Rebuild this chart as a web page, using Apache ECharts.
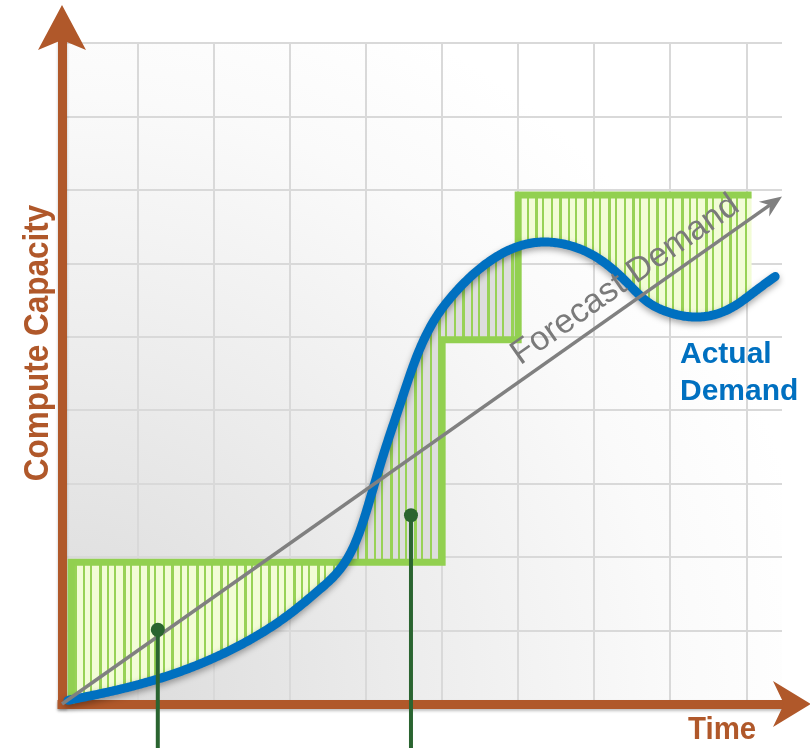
<!DOCTYPE html>
<html>
<head>
<meta charset="utf-8">
<script src="https://cdn.jsdelivr.net/npm/echarts@6/dist/echarts.min.js"></script>
<style>
  html, body { margin: 0; padding: 0; background: #ffffff; }
  #chart { width: 810px; height: 748px; }
</style>
</head>
<body>
<div id="chart"></div>
<script>
// Actual demand (time, compute units)
const demandX = [0.08, 0.76, 1.55, 2.34, 3.00, 3.40, 3.66, 3.82, 3.95, 4.08, 4.26, 4.45, 4.65, 4.87, 5.11, 5.43, 5.80, 6.20, 6.65, 7.08, 7.43, 7.67, 7.96, 8.40, 8.83, 9.18, 9.38];
const demandY = [0.05, 0.20, 0.44, 0.80, 1.23, 1.57, 1.84, 2.11, 2.45, 2.89, 3.50, 4.09, 4.69, 5.18, 5.53, 5.87, 6.14, 6.28, 6.25, 6.05, 5.74, 5.50, 5.34, 5.27, 5.41, 5.67, 5.82];

// Provisioned capacity, one level per step
const capacityStart = [0.12, 5, 6];
const capacityEnd = [5, 6, 9.07];
const capacityLevel = [1.93, 4.96, 6.93];

// Straight-line forecast
const forecastFrom = [0, 0];
const forecastTo = [9.47, 6.91];
const forecastText = 'Forecast Demand';

// Call-out pins below the plot
const calloutX = [1.26, 4.59];
const calloutY = [1.01, 2.57];

const BROWN = '#b0582a';
const GREEN = '#92d050';
const BLUE = '#0070c0';

// Vertical hatching used inside the gaps between capacity and demand
function hatch(bg) {
  const c = document.createElement('canvas');
  c.width = 97; c.height = 8;
  const g = c.getContext('2d');
  g.fillStyle = bg; g.fillRect(0, 0, c.width, c.height);
  g.fillStyle = '#98d256';
  [2, 10, 17, 26, 33, 42, 50, 57, 66, 74, 83, 90].forEach(function (x, i) {
    g.fillRect(x, 0, i % 3 === 0 ? 3 : 2, c.height);
  });
  return { image: c, repeat: 'repeat' };
}
const overPattern = hatch('#f2fcd6');
const underPattern = hatch('#dddddd');

// Natural cubic spline through pixel points (x increasing), sampled for drawing
function sampleCurve(p) {
  const n = p.length, h = [], alpha = [], l = [1], mu = [0], z = [0], c = [], b = [], d = [];
  for (let i = 0; i < n - 1; i++) h[i] = p[i + 1][0] - p[i][0];
  for (let i = 1; i < n - 1; i++) {
    alpha[i] = 3 / h[i] * (p[i + 1][1] - p[i][1]) - 3 / h[i - 1] * (p[i][1] - p[i - 1][1]);
    l[i] = 2 * (p[i + 1][0] - p[i - 1][0]) - h[i - 1] * mu[i - 1];
    mu[i] = h[i] / l[i];
    z[i] = (alpha[i] - h[i - 1] * z[i - 1]) / l[i];
  }
  c[n - 1] = 0;
  for (let j = n - 2; j >= 0; j--) {
    c[j] = (j === 0 ? 0 : z[j]) - (j === 0 ? 0 : mu[j]) * c[j + 1];
    b[j] = (p[j + 1][1] - p[j][1]) / h[j] - h[j] * (c[j + 1] + 2 * c[j]) / 3;
    d[j] = (c[j + 1] - c[j]) / (3 * h[j]);
  }
  const out = [];
  for (let i = 0; i < n - 1; i++) {
    const steps = Math.max(4, Math.ceil(Math.max(h[i], Math.abs(p[i + 1][1] - p[i][1])) / 1.5));
    for (let s = 0; s < steps; s++) {
      const t = h[i] * s / steps;
      out.push([p[i][0] + t, p[i][1] + b[i] * t + c[i] * t * t + d[i] * t * t * t]);
    }
  }
  out.push(p[n - 1].slice());
  return out;
}
function yOnCurve(curve, x) {
  if (x <= curve[0][0]) return curve[0][1];
  for (let i = 1; i < curve.length; i++) {
    if (curve[i][0] >= x) {
      const a = curve[i - 1], b = curve[i];
      const t = (x - a[0]) / (b[0] - a[0] || 1);
      return a[1] + t * (b[1] - a[1]);
    }
  }
  return curve[curve.length - 1][1];
}
function demandCurve(api) {
  return sampleCurve(demandX.map(function (x, i) { return api.coord([x, demandY[i]]); }));
}

// Shaded gap between the capacity steps and the demand curve
function renderGap(params, api) {
  const curve = demandCurve(api);
  const children = [];
  function flush(run, yc, surplus) {
    if (run.length < 2) return;
    const pts = run.concat([[run[run.length - 1][0], yc], [run[0][0], yc]]);
    children.push({ type: 'polygon', shape: { points: pts },
      style: { fill: surplus ? overPattern : underPattern, stroke: null } });
  }
  for (let k = 0; k < capacityLevel.length; k++) {
    const xa = api.coord([capacityStart[k], 0])[0];
    const xb = api.coord([capacityEnd[k], 0])[0];
    const yc = api.coord([0, capacityLevel[k]])[1];
    const seg = [[xa, yOnCurve(curve, xa)]];
    curve.forEach(function (p) { if (p[0] > xa && p[0] < xb) seg.push(p); });
    seg.push([xb, yOnCurve(curve, xb)]);
    let surplus = seg[0][1] > yc;
    let run = [seg[0]];
    for (let i = 1; i < seg.length; i++) {
      const p = seg[i], s = p[1] > yc;
      if (s !== surplus) {
        const q = seg[i - 1];
        const t = (yc - q[1]) / (p[1] - q[1]);
        const cx = q[0] + t * (p[0] - q[0]);
        run.push([cx, yc]);
        flush(run, yc, surplus);
        run = [[cx, yc]];
        surplus = s;
      }
      run.push(p);
    }
    flush(run, yc, surplus);
  }
  return { type: 'group', children: children };
}

function renderDemand(params, api) {
  return {
    type: 'polyline',
    shape: { points: demandCurve(api) },
    style: { stroke: BLUE, lineWidth: 9, fill: null, lineJoin: 'round', lineCap: 'round',
      shadowColor: 'rgba(0,0,0,0.35)', shadowBlur: 6, shadowOffsetY: 3 }
  };
}

function renderForecast(params, api) {
  const a = api.coord(forecastFrom), b = api.coord(forecastTo);
  const dx = b[0] - a[0], dy = b[1] - a[1], len = Math.sqrt(dx * dx + dy * dy);
  const ux = dx / len, uy = dy / len, nx = uy, ny = -ux;
  const headLen = 22, headHalf = 9, notch = 15;
  const base = [b[0] - ux * notch, b[1] - uy * notch];
  const angle = Math.atan2(-dy, dx);
  const f = 0.80, off = 5;
  const lx = a[0] + dx * f + nx * off, ly = a[1] + dy * f + ny * off;
  return {
    type: 'group',
    children: [
      { type: 'line', shape: { x1: a[0], y1: a[1], x2: base[0], y2: base[1] },
        style: { stroke: '#808080', lineWidth: 3.5 } },
      { type: 'polygon', shape: { points: [
          b,
          [b[0] - ux * headLen + nx * headHalf, b[1] - uy * headLen + ny * headHalf],
          base,
          [b[0] - ux * headLen - nx * headHalf, b[1] - uy * headLen - ny * headHalf]
        ] }, style: { fill: '#808080' } },
      { type: 'text', x: lx, y: ly, rotation: angle,
        style: { text: forecastText, x: 0, y: 0, fill: '#7a7a7a',
          font: '34px "Liberation Sans", Arial, sans-serif',
          align: 'center', verticalAlign: 'bottom' } }
    ]
  };
}

function renderCallouts(params, api) {
  const children = [];
  calloutX.forEach(function (x, i) {
    const c = api.coord([x, calloutY[i]]);
    children.push({ type: 'line', shape: { x1: c[0], y1: c[1], x2: c[0], y2: 760 },
      style: { stroke: '#2a6430', lineWidth: 4 } });
    children.push({ type: 'circle', shape: { cx: c[0], cy: c[1], r: 7 },
      style: { fill: '#2a6430' } });
  });
  return { type: 'group', children: children };
}

// Capacity step outline built from the step arrays
const capacityLine = [[capacityStart[0], 0]];
capacityLevel.forEach(function (lv, i) {
  capacityLine.push([capacityStart[i], lv], [capacityEnd[i], lv]);
});

const chart = echarts.init(document.getElementById('chart'), null, { renderer: 'canvas' });
const gridLine = { show: true, lineStyle: { color: '#d9d9d9', width: 2 }, showMinLine: false };
const axisStroke = { color: BROWN, width: 9, cap: 'square',
  shadowColor: 'rgba(0,0,0,0.25)', shadowBlur: 3, shadowOffsetY: 2 };

chart.setOption({
  animation: false,
  backgroundColor: '#ffffff',
  grid: [
    { left: 62, right: 28, top: 43, bottom: 44, show: true, borderWidth: 0,
      backgroundColor: { type: 'radial', x: 0, y: 1, r: 1.15, colorStops: [
        { offset: 0, color: '#d9d9d9' }, { offset: 0.45, color: '#ececec' },
        { offset: 0.8, color: '#fafafa' }, { offset: 1, color: '#ffffff' } ] } },
    { left: 62, right: 27, top: 42, bottom: 44 }
  ],
  xAxis: [
    { gridIndex: 0, type: 'value', min: 0, max: 9.47, interval: 1,
      axisLine: { show: false }, axisTick: { show: false }, axisLabel: { show: false },
      splitLine: Object.assign({}, gridLine, { showMaxLine: false }) },
    { gridIndex: 1, type: 'value', min: 0, max: 1,
      axisLine: { show: true, lineStyle: axisStroke },
      axisTick: { show: false }, axisLabel: { show: false }, splitLine: { show: false } }
  ],
  yAxis: [
    { gridIndex: 0, type: 'value', min: 0, max: 9, interval: 1,
      axisLine: { show: false }, axisTick: { show: false }, axisLabel: { show: false },
      splitLine: gridLine },
    { gridIndex: 1, type: 'value', min: 0, max: 1,
      axisLine: { show: true, lineStyle: axisStroke },
      axisTick: { show: false }, axisLabel: { show: false }, splitLine: { show: false } }
  ],
  series: [
    { type: 'custom', name: 'gap', xAxisIndex: 0, yAxisIndex: 0, data: [[0, 0]],
      renderItem: renderGap, z: 2, silent: true },
    { type: 'line', name: 'Capacity', xAxisIndex: 0, yAxisIndex: 0, data: capacityLine,
      symbol: 'none', lineStyle: { color: GREEN, width: 7, join: 'miter' }, z: 3, silent: true },
    { type: 'custom', name: 'Actual Demand', xAxisIndex: 0, yAxisIndex: 0, data: [[0, 0]],
      renderItem: renderDemand, z: 4, silent: true },
    { type: 'custom', name: 'Forecast Demand', xAxisIndex: 0, yAxisIndex: 0, data: [[0, 0]],
      renderItem: renderForecast, z: 5, silent: true },
    { type: 'custom', name: 'callouts', xAxisIndex: 0, yAxisIndex: 0, data: [[0, 0]],
      renderItem: renderCallouts, z: 6, silent: true, clip: false }
  ],
  graphic: [
    // arrowheads closing the two axes
    { type: 'polygon', z: 10, shape: { points: [[62, 5], [86, 50], [62, 40], [38, 50]] },
      style: { fill: BROWN } },
    { type: 'polygon', z: 10, shape: { points: [[811, 704], [773, 727], [784, 704], [773, 681]] },
      style: { fill: BROWN } },
    { type: 'text', x: 38, y: 343, rotation: Math.PI / 2, scaleX: 0.9, z: 10,
      style: { text: 'Compute Capacity', fill: BROWN,
        font: 'bold 35px "Liberation Sans", Arial, sans-serif',
        align: 'center', verticalAlign: 'middle', textAlign: 'center', textVerticalAlign: 'middle' } },
    { type: 'text', x: 688, y: 730, scaleX: 0.92, z: 10,
      style: { text: 'Time', fill: BROWN,
        font: 'bold 32px "Liberation Sans", Arial, sans-serif',
        align: 'left', verticalAlign: 'middle', textAlign: 'left', textVerticalAlign: 'middle' } },
    { type: 'text', x: 680, y: 336, z: 10,
      style: { text: 'Actual\nDemand', fill: BLUE, lineHeight: 37,
        font: 'bold 30px "Liberation Sans", Arial, sans-serif',
        align: 'left', verticalAlign: 'top', textAlign: 'left', textVerticalAlign: 'top' } }
  ]
});
</script>
</body>
</html>
